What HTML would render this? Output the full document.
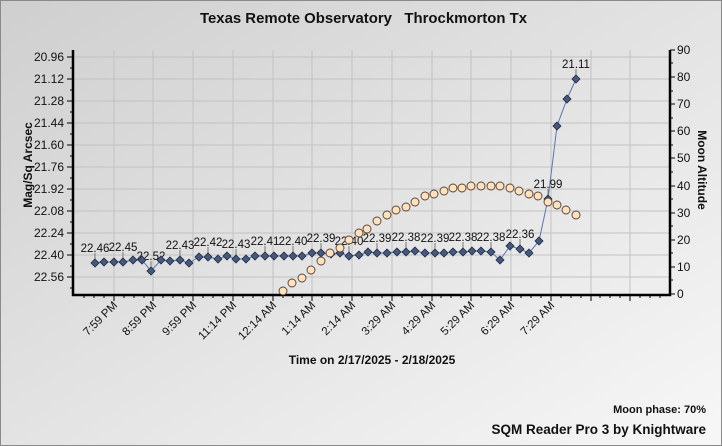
<!DOCTYPE html>
<html><head><meta charset="utf-8"><style>html,body{margin:0;padding:0;width:722px;height:446px;overflow:hidden}svg{display:block;font-family:"Liberation Sans",sans-serif}</style></head><body>
<svg width="722" height="446" viewBox="0 0 722 446" xmlns="http://www.w3.org/2000/svg">
<defs><linearGradient id="bg" x1="0" y1="0" x2="1" y2="1"><stop offset="0" stop-color="#cfcfcf"/><stop offset="1" stop-color="#f7f7f7"/></linearGradient></defs>
<rect x="0.5" y="0.5" width="721" height="445" fill="url(#bg)" stroke="#8a8a8a"/>
<text x="200" y="23" font-size="15" font-weight="bold" fill="#111" textLength="327" lengthAdjust="spacingAndGlyphs">Texas Remote Observatory&#160;&#160;&#160;Throckmorton Tx</text>
<g stroke="#c2c2c2" stroke-width="1">
<path d="M74 57H670M74 79H670M74 101H670M74 123H670M74 145H670M74 167H670M74 189H670M74 211H670M74 233H670M74 255H670M74 277H670"/>
<path d="M114 50V294M153 50V294M193 50V294M233 50V294M273 50V294M312 50V294M352 50V294M392 50V294M432 50V294M471 50V294M511 50V294M551 50V294M591 50V294M630 50V294"/>
</g>
<g stroke="#000" stroke-width="2.5" fill="none"><path d="M73 50V295H670V50"/></g>
<g stroke="#000" stroke-width="1">
<path d="M114 295v6M153 295v6M193 295v6M233 295v6M273 295v6M312 295v6M352 295v6M392 295v6M432 295v6M471 295v6M511 295v6M551 295v6M591 295v6M630 295v6"/>
<path d="M84 295v3M94 295v3M104 295v3M124 295v3M134 295v3M144 295v3M163 295v3M173 295v3M183 295v3M203 295v3M213 295v3M223 295v3M243 295v3M253 295v3M263 295v3M283 295v3M293 295v3M302 295v3M322 295v3M332 295v3M342 295v3M362 295v3M372 295v3M382 295v3M402 295v3M412 295v3M422 295v3M441 295v3M451 295v3M461 295v3M481 295v3M491 295v3M501 295v3M521 295v3M531 295v3M541 295v3M561 295v3M571 295v3M581 295v3M600 295v3M610 295v3M620 295v3M640 295v3M650 295v3M660 295v3"/>
<path d="M67 57h6M67 79h6M67 101h6M67 123h6M67 145h6M67 167h6M67 189h6M67 211h6M67 233h6M67 255h6M67 277h6"/>
<path d="M70 68h3M70 90h3M70 112h3M70 134h3M70 156h3M70 178h3M70 200h3M70 222h3M70 244h3M70 266h3M70 288h3"/>
<path d="M670 294h5M670 267h5M670 240h5M670 213h5M670 186h5M670 158h5M670 131h5M670 104h5M670 77h5M670 50h5"/>
<path d="M670 280h3M670 253h3M670 226h3M670 199h3M670 172h3M670 145h3M670 118h3M670 91h3M670 63h3"/>
</g>
<g font-size="12" fill="#111" text-anchor="end">
<text x="64" y="61">20.96</text><text x="64" y="83">21.12</text><text x="64" y="105">21.28</text><text x="64" y="127">21.44</text><text x="64" y="149">21.60</text><text x="64" y="171">21.76</text><text x="64" y="193">21.92</text><text x="64" y="215">22.08</text><text x="64" y="237">22.24</text><text x="64" y="259">22.40</text><text x="64" y="281">22.56</text>
</g>
<g font-size="12" fill="#111">
<text x="677" y="298">0</text><text x="677" y="271">10</text><text x="677" y="244">20</text><text x="677" y="217">30</text><text x="677" y="190">40</text><text x="677" y="162">50</text><text x="677" y="135">60</text><text x="677" y="108">70</text><text x="677" y="81">80</text><text x="677" y="54">90</text>
</g>
<text transform="translate(32,165) rotate(-90)" text-anchor="middle" font-size="12" font-weight="bold" fill="#111">Mag/Sq Arcsec</text>
<text transform="translate(698,170) rotate(90)" text-anchor="middle" font-size="12" font-weight="bold" fill="#111">Moon Altitude</text>
<g font-size="11.5" fill="#111" text-anchor="end">
<text transform="translate(118,306) rotate(-45)">7:59 PM</text>
<text transform="translate(157,306) rotate(-45)">8:59 PM</text>
<text transform="translate(197,306) rotate(-45)">9:59 PM</text>
<text transform="translate(237,306) rotate(-45)">11:14 PM</text>
<text transform="translate(277,306) rotate(-45)">12:14 AM</text>
<text transform="translate(316,306) rotate(-45)">1:14 AM</text>
<text transform="translate(356,306) rotate(-45)">2:14 AM</text>
<text transform="translate(396,306) rotate(-45)">3:29 AM</text>
<text transform="translate(436,306) rotate(-45)">4:29 AM</text>
<text transform="translate(475,306) rotate(-45)">5:29 AM</text>
<text transform="translate(515,306) rotate(-45)">6:29 AM</text>
<text transform="translate(555,306) rotate(-45)">7:29 AM</text>
</g>
<text x="372" y="364" text-anchor="middle" font-size="12" font-weight="bold" fill="#111">Time on 2/17/2025 - 2/18/2025</text>
<text x="706" y="413" text-anchor="end" font-size="11" font-weight="bold" fill="#111">Moon phase: 70%</text>
<text x="706" y="434" text-anchor="end" font-size="13.5" font-weight="bold" fill="#111">SQM Reader Pro 3 by Knightware</text>
<polyline fill="none" stroke="#5a78b0" stroke-width="1" points="95,263 104,262 114,262 123,262 133,260 142,260 151,271 161,260 170,261 180,260 189,263 199,257 208,257 218,259 227,256 236,259 246,259 255,256 265,256 274,256 284,256 293,256 302,256 312,253 321,253 331,254 340,253 349,256 359,255 368,252 377,253 387,253 397,252 406,252 415,251 425,253 435,253 444,253 453,252 463,252 472,251 481,251 491,252 500,260 510,246 520,249 529,253 539,241 548,199 557,126 567,99 576,79"/>
<g stroke="#777" stroke-width="1">
<path d="M95 253v6M123 252v6M151 261v6M180 250v6M208 247v6M236 249v6M265 246v6M293 246v6M321 243v6M349 246v6M377 243v6M406 242v6M435 243v6M463 242v6M491 242v6M520 239v6M548 189v6M576 69v6"/>
</g>
<g font-size="11.5" fill="#111" text-anchor="middle">
<text x="95" y="252">22.46</text><text x="123" y="251">22.45</text><text x="151" y="260">22.52</text><text x="180" y="249">22.43</text><text x="208" y="246">22.42</text><text x="236" y="248">22.43</text><text x="265" y="245">22.41</text><text x="293" y="245">22.40</text><text x="321" y="242">22.39</text><text x="349" y="245">22.40</text><text x="377" y="242">22.39</text><text x="406" y="241">22.38</text><text x="435" y="242">22.39</text><text x="463" y="241">22.38</text><text x="491" y="241">22.38</text><text x="520" y="238">22.36</text><text x="548" y="188">21.99</text><text x="576" y="68">21.11</text>
</g>
<g fill="#46587c" stroke="#1e2a44" stroke-width="0.8">
<path d="M95 259l4 4-4 4-4-4zM104 258l4 4-4 4-4-4zM114 258l4 4-4 4-4-4zM123 258l4 4-4 4-4-4zM133 256l4 4-4 4-4-4zM142 256l4 4-4 4-4-4zM151 267l4 4-4 4-4-4zM161 256l4 4-4 4-4-4zM170 257l4 4-4 4-4-4zM180 256l4 4-4 4-4-4zM189 259l4 4-4 4-4-4zM199 253l4 4-4 4-4-4zM208 253l4 4-4 4-4-4zM218 255l4 4-4 4-4-4zM227 252l4 4-4 4-4-4zM236 255l4 4-4 4-4-4zM246 255l4 4-4 4-4-4zM255 252l4 4-4 4-4-4zM265 252l4 4-4 4-4-4zM274 252l4 4-4 4-4-4zM284 252l4 4-4 4-4-4zM293 252l4 4-4 4-4-4zM302 252l4 4-4 4-4-4zM312 249l4 4-4 4-4-4zM321 249l4 4-4 4-4-4zM331 250l4 4-4 4-4-4zM340 249l4 4-4 4-4-4zM349 252l4 4-4 4-4-4zM359 251l4 4-4 4-4-4zM368 248l4 4-4 4-4-4zM377 249l4 4-4 4-4-4zM387 249l4 4-4 4-4-4zM397 248l4 4-4 4-4-4zM406 248l4 4-4 4-4-4zM415 247l4 4-4 4-4-4zM425 249l4 4-4 4-4-4zM435 249l4 4-4 4-4-4zM444 249l4 4-4 4-4-4zM453 248l4 4-4 4-4-4zM463 248l4 4-4 4-4-4zM472 247l4 4-4 4-4-4zM481 247l4 4-4 4-4-4zM491 248l4 4-4 4-4-4zM500 256l4 4-4 4-4-4zM510 242l4 4-4 4-4-4zM520 245l4 4-4 4-4-4zM529 249l4 4-4 4-4-4zM539 237l4 4-4 4-4-4zM548 195l4 4-4 4-4-4zM557 122l4 4-4 4-4-4zM567 95l4 4-4 4-4-4zM576 75l4 4-4 4-4-4z"/>
</g>
<g fill="#fde2c0" stroke="#5a4030" stroke-width="0.9">
<circle cx="283" cy="291" r="4"/><circle cx="292" cy="283" r="4"/><circle cx="302" cy="278" r="4"/><circle cx="311" cy="270" r="4"/><circle cx="321" cy="261" r="4"/><circle cx="330" cy="253" r="4"/><circle cx="340" cy="248" r="4"/><circle cx="349" cy="240" r="4"/><circle cx="359" cy="233" r="4"/><circle cx="367" cy="229" r="4"/><circle cx="377" cy="221" r="4"/><circle cx="387" cy="215" r="4"/><circle cx="396" cy="210" r="4"/><circle cx="406" cy="207" r="4"/><circle cx="415" cy="202" r="4"/><circle cx="425" cy="196" r="4"/><circle cx="434" cy="194" r="4"/><circle cx="444" cy="191" r="4"/><circle cx="453" cy="188" r="4"/><circle cx="462" cy="188" r="4"/><circle cx="471" cy="186" r="4"/><circle cx="481" cy="186" r="4"/><circle cx="491" cy="186" r="4"/><circle cx="500" cy="186" r="4"/><circle cx="510" cy="188" r="4"/><circle cx="519" cy="191" r="4"/><circle cx="529" cy="194" r="4"/><circle cx="538" cy="196" r="4"/><circle cx="548" cy="202" r="4"/><circle cx="557" cy="205" r="4"/><circle cx="566" cy="210" r="4"/><circle cx="576" cy="215" r="4"/>
</g>
</svg>
</body></html>
